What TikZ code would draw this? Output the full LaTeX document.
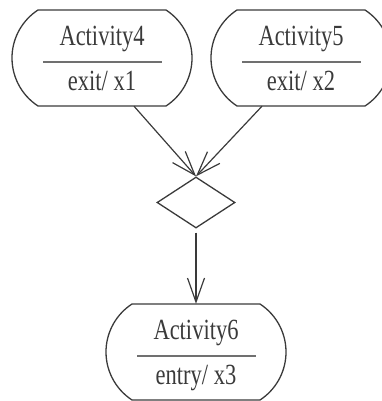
\documentclass[tikz,border=0pt]{standalone}
\usepackage{fontspec}
\setmainfont{Liberation Serif}
\usetikzlibrary{shapes.geometric,arrows.meta,calc}
\definecolor{ink}{HTML}{3A3A3A}
\definecolor{rule}{HTML}{707070}
\begin{document}
\begin{tikzpicture}[x=1pt,y=1pt,
  actbox/.style={rectangle,minimum width=182pt,minimum height=96pt,inner sep=0pt},
  outl/.style={draw=ink,line width=1.3pt},
  divline/.style={draw=rule,line width=2.2pt},
  lbl/.style={anchor=base,inner sep=0pt,text=ink,font=\fontsize{22.5}{24}\selectfont},
  flow/.style={draw=ink,line width=1.2pt,-{Straight Barb[length=24pt,width=17pt,line width=1.2pt]}},
  decis/.style={diamond,draw=ink,line width=1.3pt,minimum width=78pt,minimum height=51pt,inner sep=0pt}]
\useasboundingbox (0,0) rectangle (382,401);
\clip (0,0) rectangle (382,401);

\node[actbox] (a4) at (102,343) {};
\node[actbox] (a5) at (301,343) {};
\node[actbox] (a6) at (196,49) {};
\node[decis] (d) at (196,198.5) {};

\foreach \n in {a4,a5,a6}{
  \draw[outl] (\n.center) ++(-64,48) -- ++(128,0)
    arc[start angle=56.9,end angle=-56.9,radius=57.3] -- ++(-128,0)
    arc[start angle=236.9,end angle=123.1,radius=57.3] -- cycle;
  \draw[divline] ($(\n.center)+(-59,-4)$) -- ($(\n.center)+(60,-4)$);
}

\node[lbl] (a4t) at ($(a4.center)+(0,12)$) {\scalebox{1}[1.3]{Activity4}};
\node[lbl] (a4b) at ($(a4.center)+(0,-33)$) {\scalebox{1}[1.3]{exit/ x1}};
\node[lbl] (a5t) at ($(a5.center)+(0,12)$) {\scalebox{1}[1.3]{Activity5}};
\node[lbl] (a5b) at ($(a5.center)+(0,-33)$) {\scalebox{1}[1.3]{exit/ x2}};
\node[lbl] (a6t) at ($(a6.center)+(0,12)$) {\scalebox{1}[1.3]{Activity6}};
\node[lbl] (a6b) at ($(a6.center)+(0,-33)$) {\scalebox{1}[1.3]{entry/ x3}};

\coordinate (a4out) at ($(a4.south)+(32,0)$);
\coordinate (a5out) at ($(a5.south)+(-39,0)$);

\draw[flow] (a4out) -- (d.north);
\draw[flow] (a5out) -- (d.north);
\draw[flow,shorten <=4pt] (d.south) -- (a6.north);
\end{tikzpicture}
\end{document}
